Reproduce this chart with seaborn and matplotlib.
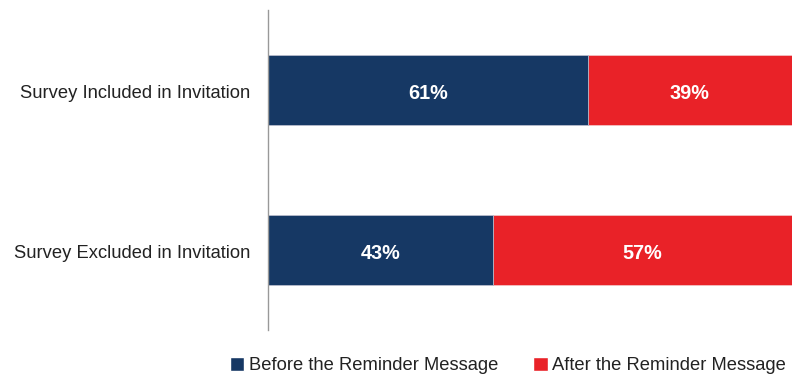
import matplotlib
matplotlib.use("Agg")
import matplotlib.pyplot as plt
import seaborn as sns
import pandas as pd
from matplotlib.patches import Patch
from matplotlib.transforms import ScaledTranslation

categories = ["Survey Included in Invitation", "Survey Excluded in Invitation"]
before = [61, 43]
after = [39, 57]
series_names = ["Before the Reminder Message", "After the Reminder Message"]
colors = ["#163864", "#E92228"]

sns.set_theme(style="white")
plt.rcParams['font.family'] = ['Liberation Sans', 'DejaVu Sans']

df = pd.DataFrame({"cat": categories, "before": before, "after": after})
df["total"] = df["before"] + df["after"]

fig = plt.figure(figsize=(8, 3.77), dpi=100)
ax = fig.add_axes([0.335, 0.1247, 0.655, 0.8488])

sns.barplot(data=df, y="cat", x="total", orient="h", color=colors[1], width=0.44,
            ax=ax, saturation=1, edgecolor="#f4c0c2", linewidth=0.6)
sns.barplot(data=df, y="cat", x="before", orient="h", color=colors[0], width=0.44,
            ax=ax, saturation=1, edgecolor="#b9c3d3", linewidth=0.6)

ax.set_xlim(0, 100)
ax.set_ylim(1.5, -0.5)
ax.set_xlabel("")
ax.set_ylabel("")
ax.set_xticks([])
for s in ["top", "right", "bottom"]:
    ax.spines[s].set_visible(False)
ax.spines["left"].set_color("#999999")
ax.spines["left"].set_linewidth(1)
ax.tick_params(axis="y", length=0, pad=13, labelsize=13.2, labelcolor="#222222")
shift = ScaledTranslation(0, -2 / 100, fig.dpi_scale_trans)
for lab in ax.get_yticklabels():
    lab.set_va("center_baseline")
    lab.set_transform(lab.get_transform() + shift)

for i, (b, a) in enumerate(zip(before, after)):
    ax.text(b / 2, i, f"{b}%", ha="center", va="center_baseline", color="white",
            fontsize=14.3, fontweight="bold", transform=ax.transData + shift)
    ax.text(b + a / 2, i, f"{a}%", ha="center", va="center_baseline", color="white",
            fontsize=14.3, fontweight="bold", transform=ax.transData + shift)

handles = [Patch(facecolor=c, label=n) for c, n in zip(colors, series_names)]
fig.legend(handles=handles, loc="center", bbox_to_anchor=(0.635, 0.03), ncol=2,
           frameon=False, fontsize=13.2, handlelength=0.8, handleheight=0.8,
           handletextpad=0.25, columnspacing=1.9, labelcolor="#222222")

fig.savefig("out.png", dpi=100)
